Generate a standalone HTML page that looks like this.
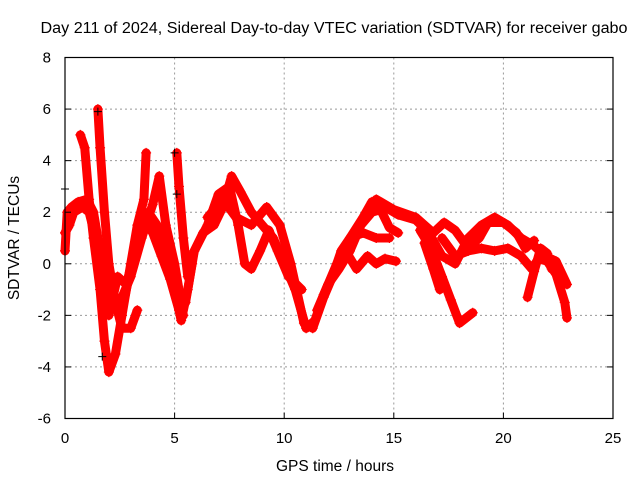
<!DOCTYPE html>
<html><head><meta charset="utf-8"><style>
body{margin:0;background:#fff}
svg{display:block;font-family:"Liberation Sans",sans-serif}
</style></head><body>
<svg id="chart" width="640" height="480" viewBox="0 0 640 480">
<rect width="640" height="480" fill="#fff"/>
<text x="334" y="33" font-size="15.5" text-anchor="middle" textLength="587" lengthAdjust="spacingAndGlyphs">Day 211 of 2024, Sidereal Day-to-day VTEC variation (SDTVAR) for receiver gabo</text>
<g id="grid"></g>
<g id="series"></g>
<rect x="65" y="57.5" width="548" height="361" fill="none" stroke="#000" stroke-width="1.2"/>
<g id="ticks"></g>
<text x="335" y="471" font-size="15.5" text-anchor="middle">GPS time / hours</text>
<text transform="translate(19,238) rotate(-90)" font-size="15.5" text-anchor="middle">SDTVAR / TECUs</text>
</svg>
<script>
const xTicks=[0,5,10,15,20,25];
const yTicks=[-6,-4,-2,0,2,4,6,8];
const trackA=[[0,0.5],[0.1,2],[0.3,2.2],[0.6,2.4],[1,2.5],[1.3,2],[1.6,0.5],[1.8,-1.5],[2.0,-2],[2.4,-0.5],[2.8,-0.8],[3.2,0.5],[3.5,1.5],[3.8,2],[4.2,1.5],[4.6,0],[5,-1],[5.3,-2.2],[5.6,-1],[5.9,0.5],[6.3,1.2],[6.8,1.5],[7.2,2.2],[7.6,3.4],[8,2.8],[8.5,2],[9,1.5],[9.5,1],[10,0],[10.5,-1],[11,-2.5],[11.4,-2.2],[11.8,-1.2],[12.4,0],[13,1],[13.6,1.8],[14,2.4],[14.6,2.2],[15.2,1.9],[16,1.7],[16.6,1.2],[17.2,0.3],[17.8,0],[18.4,1],[19,1.5],[19.6,1.8],[20.2,1.5],[20.8,1],[21.4,0.7],[21.9,0.3],[22.4,0.1],[22.9,-0.8]];
const trackA2=[[0,1.2],[0.2,1.5],[0.4,2.0],[0.8,2.2],[1.1,2.0],[1.4,1.0],[1.7,-0.5],[2.1,-1.2],[2.6,-1.8],[3.0,-0.2],[3.3,1.0],[3.7,1.6],[4.0,1.2],[4.4,0.3],[4.8,-0.6],[5.2,-1.8],[5.5,-1.5],[5.8,0]];
const trackB=[[0.7,5],[0.9,4.5],[1.1,2.5],[1.3,1],[1.6,-1],[1.8,-3],[2.0,-4.2],[2.3,-3.5],[2.6,-2],[3,0],[3.3,1.5],[3.6,2.5],[3.7,4.3]];
const trackC=[[1.5,6],[1.6,4.5],[1.8,2],[2,0],[2.3,-1.5],[2.6,-2.5],[3,-2.5],[3.3,-1.8]];
const trackD=[[2.5,-1.5],[3,-0.5],[3.5,1],[4,2.3],[4.3,3.4],[4.6,1.5],[5,0],[5.2,-1],[5.4,-2]];
const trackE=[[5.1,4.3],[5.2,3],[5.4,1],[5.6,-0.5],[5.9,0.5],[6.5,1.5],[7,2.7],[7.5,3],[7.9,1.5],[8.2,0],[8.5,-0.2],[8.9,0.5],[9.3,1.3],[9.7,0.5],[10.2,-0.5],[10.8,-1]];
const trackF=[[6.5,1.8],[7.2,2.5],[7.8,1.8],[8.5,1.5],[9.2,2.2],[9.8,1.5],[10.3,0],[10.9,-2.3],[11.3,-2.5],[11.8,-1.3],[12.2,-0.5],[12.6,0.5],[13,1],[13.6,1.2],[14.2,1],[14.8,1]];
const trackG=[[11.5,-1.8],[12,-0.8],[12.5,-0.2],[13,0.5],[13.5,1.5],[14,2],[14.4,2.1],[14.8,1.4],[15.2,1.2]];
const trackH=[[12.8,0.5],[13.3,-0.2],[13.8,0.3],[14.2,0],[14.6,0.2],[15.1,0.1]];
const trackI=[[14.2,2.5],[15,2.1],[16,1.8],[16.8,1.2],[17.3,1.6],[17.8,1.3],[18.4,0.6],[18.9,1],[19.3,1.6],[20,1.6],[20.6,1.2],[21,0.6],[21.4,0.9]];
const trackJ=[[16.2,1.3],[16.7,0.6],[17.2,-0.5],[17.6,-1.4],[18,-2.3],[18.3,-2.1],[18.6,-1.9]];
const trackK=[[16.4,0.8],[16.8,-0.2],[17.1,-1]];
const trackL=[[17.2,1],[17.8,0.3],[18.4,0.5],[19,0.6],[19.6,0.5],[20.2,0.6],[20.8,0.3],[21.3,-0.2],[21.6,0.2],[22,0.1],[22.4,-0.4],[22.8,-1.5],[22.9,-2.1]];
const trackM=[[21.1,-1.3],[21.4,-0.3],[21.7,0.6],[22,0.4],[22.2,-0.2]];
const tracks=[trackA,trackA2,trackB,trackC,trackD,trackE,trackF,trackG,trackH,trackI,trackJ,trackK,trackL,trackM];
const blackPts=[[0,2.9],[1.7,-3.6],[5,4.3],[5.1,2.7],[1.5,5.9]];
const X0=65,X1=613,Y0=418.5,Y1=57.5;
const xs=v=>X0+(v-0)/(25-0)*(X1-X0);
const ys=v=>Y0-(v+6)/14*(Y0-Y1);
const NS="http://www.w3.org/2000/svg";
function mk(t,a,p){const e=document.createElementNS(NS,t);for(const k in a)e.setAttribute(k,a[k]);p.appendChild(e);return e;}
const grid=document.getElementById('grid'),ticks=document.getElementById('ticks'),ser=document.getElementById('series');
xTicks.forEach(t=>{const x=xs(t);
 if(t>0&&t<25){const g=mk('line',{x1:x,x2:x,y1:Y1,y2:Y0,stroke:'#999','stroke-dasharray':'2,3'},grid);
 
 }
 const l=mk('line',{x1:x,x2:x,y1:Y0,y2:Y0-6,stroke:'#000'},ticks);
 
 
 const tx=mk('text',{x:x,y:443,'font-size':15,'text-anchor':'middle'},ticks);tx.textContent=t;
 
 });
yTicks.forEach(t=>{const y=ys(t);
 if(t>-6&&t<8){const g=mk('line',{x1:X0,x2:X1,y1:y,y2:y,stroke:'#999','stroke-dasharray':'2,3'},grid);
 
 }
 const l=mk('line',{x1:X0,x2:X0+6,y1:y,y2:y,stroke:'#000'},ticks);
 
 
 const l2=mk('line',{x1:X1,x2:X1-6,y1:y,y2:y,stroke:'#000'},ticks);
 
 
 const tx=mk('text',{x:51,y:y+5,'font-size':15,'text-anchor':'end'},ticks);tx.textContent=t;
 
 });
tracks.forEach((tr,i)=>{
 const pl=mk('polyline',{points:tr.map(p=>xs(p[0])+','+ys(p[1])).join(' '),fill:'none',stroke:'#f00','stroke-width':9,'stroke-linejoin':'round','stroke-linecap':'round'},ser);
 
 
 tr.forEach(p=>{const x=xs(p[0]),y=ys(p[1]);
  const m=mk('path',{d:`M${x-5},${y}H${x+5}M${x},${y-5}V${y+5}`,stroke:'#f00','stroke-width':1.2},ser);
  
  });
});
blackPts.forEach(p=>{const x=xs(p[0]),y=ys(p[1]);
 const m=mk('path',{d:`M${x-4},${y}H${x+4}M${x},${y-4}V${y+4}`,stroke:'#000','stroke-width':1},ser);
 
 });
</script>
</body></html>
